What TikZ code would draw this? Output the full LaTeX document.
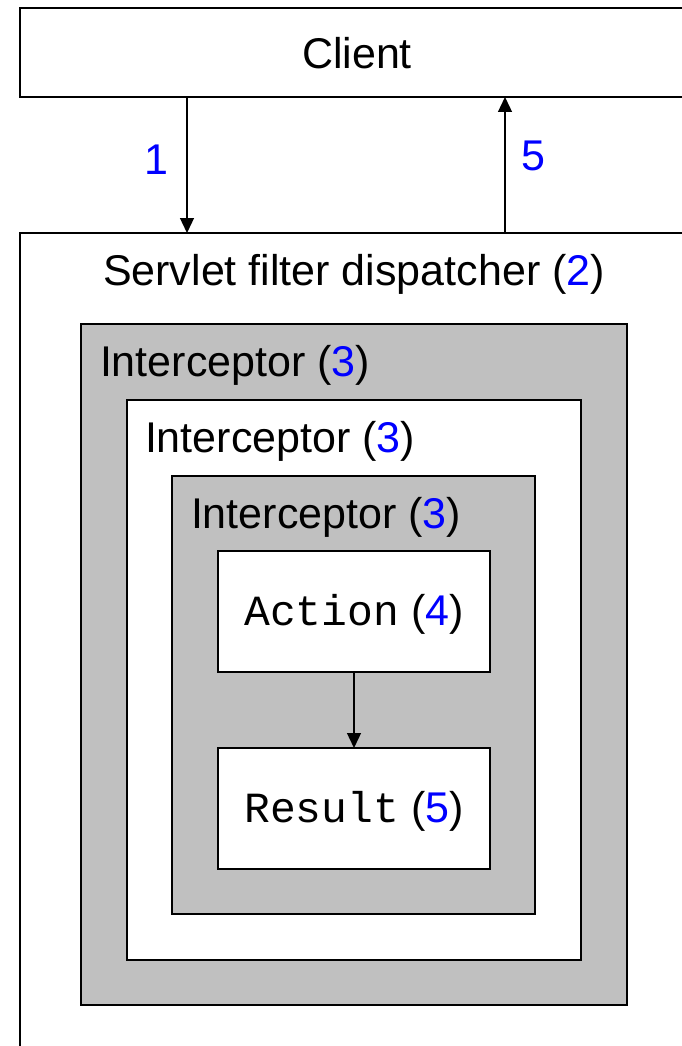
\documentclass[tikz,border=0pt]{standalone}
\usepackage{fontspec}
\setmainfont{Liberation Sans}
\setmonofont{Liberation Mono}
\usetikzlibrary{arrows.meta}
\definecolor{silverfill}{HTML}{C0C0C0}
\definecolor{numblue}{HTML}{0000FF}
\newcommand{\bnum}[1]{\textcolor{numblue}{#1}}
\tikzset{
  frame/.style={draw=black, line width=1.5pt, rectangle, inner sep=0pt, outer sep=0pt, anchor=north west},
  graybox/.style={frame, fill=silverfill},
  whitebox/.style={frame, fill=white},
  lbl/.style={inner sep=0pt, outer sep=0pt, font=\fontsize{43}{50}\selectfont},
  arr/.style={line width=1.3pt, -{Triangle[length=15pt,width=14pt]}},
}
\begin{document}
\begin{tikzpicture}[x=1pt,y=-1pt]
\useasboundingbox (0,0) rectangle (681,1046);
\fill[white] (0,0) rectangle (681,1046);
% boxes
\node[whitebox, minimum width=800pt, minimum height=89pt] (client) at (20,8) {};
\node[whitebox, minimum width=800pt, minimum height=900pt] (servlet) at (20,233) {};
\node[graybox, minimum width=546pt, minimum height=681pt] (icpt1) at (81,324) {};
\node[whitebox, minimum width=454pt, minimum height=560pt] (icpt2) at (127,400) {};
\node[graybox, minimum width=363pt, minimum height=438pt] (icpt3) at (172,476) {};
\node[whitebox, minimum width=272pt, minimum height=121pt] (action) at (218,551) {};
\node[whitebox, minimum width=272pt, minimum height=121pt] (result) at (218,748) {};
% texts
\node[lbl, anchor=base] (clienttxt) at (357,69) {Client};
\node[lbl, anchor=base] (servtxt) at (354,285) {Servlet filter dispatcher (\bnum{2})};
\node[lbl, anchor=base west] (icpt1txt) at (100,376) {Interceptor (\bnum{3})};
\node[lbl, anchor=base west] (icpt2txt) at (145,452) {Interceptor (\bnum{3})};
\node[lbl, anchor=base west] (icpt3txt) at (191,528) {Interceptor (\bnum{3})};
\node[lbl, anchor=base] (actiontxt) at (354,625) {{\ttfamily Action} (\bnum{4})};
\node[lbl, anchor=base] (resulttxt) at (354,822) {{\ttfamily Result} (\bnum{5})};
\node[lbl, anchor=base] (lab1) at (156,174) {\bnum{1}};
\node[lbl, anchor=base] (lab5) at (533,170) {\bnum{5}};
% connectors
\coordinate (a1) at (187,0);
\coordinate (a5) at (505,0);
\draw[arr] (client.south -| a1) -- (servlet.north -| a1);
\draw[arr] (servlet.north -| a5) -- (client.south -| a5);
\draw[arr] (action.south) -- (result.north);
\end{tikzpicture}
\end{document}
